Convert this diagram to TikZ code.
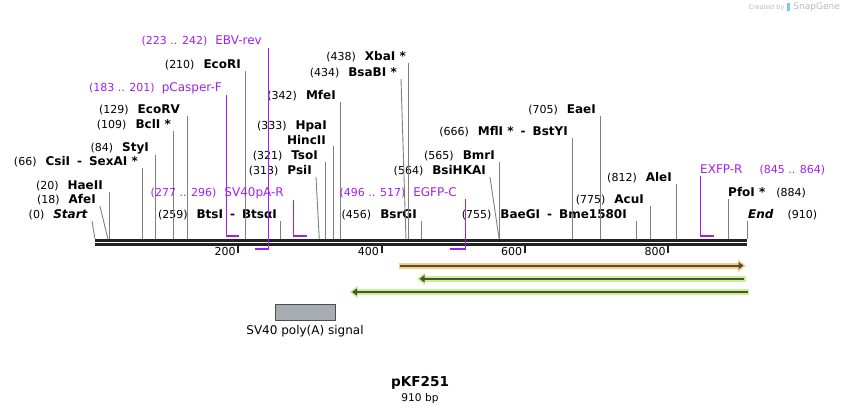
\documentclass[tikz,border=0pt]{standalone}
\usepackage{fontspec}
\setmainfont{DejaVu Sans}
\usetikzlibrary{arrows.meta, positioning}

\definecolor{primerpurple}{RGB}{160,32,240}
\definecolor{cutgray}{RGB}{128,128,128}
\definecolor{axisdark}{RGB}{34,34,34}
\definecolor{featorange}{RGB}{251,204,128}
\definecolor{featgreen}{RGB}{196,243,143}
\definecolor{featcore}{RGB}{78,78,66}
\definecolor{signalgray}{RGB}{167,172,179}
\definecolor{creditgray}{RGB}{185,185,185}
\definecolor{logoblue}{RGB}{120,200,240}

% position of a base pair on the map
\newcommand{\bpx}[1]{95+0.7165*#1}
\newcommand{\num}[1]{{\mdseries\fontsize{11}{13}\selectfont #1}}
\newcommand{\gap}{\hspace{9pt}}
\newcommand{\dash}{\hspace{7pt}-\hspace{7pt}}

\begin{document}
\begin{tikzpicture}[x=1pt, y=-1pt,
    enz/.style={inner xsep=0pt, inner ysep=1.5pt, anchor=base east, font=\fontsize{12}{14}\selectfont\bfseries},
    enzr/.style={enz, anchor=base west},
    prm/.style={inner xsep=0pt, inner ysep=1.5pt, anchor=base east, font=\fontsize{12}{14}\selectfont, text=primerpurple},
    prmr/.style={prm, anchor=base west},
    cut/.style={draw=cutgray, line width=0.9pt},
    primer/.style={draw=primerpurple, line width=1.2pt},
    foot/.style={draw=primerpurple, line width=2pt},
    band/.style={draw=#1, line width=6pt},
    core/.style={draw=featcore, line width=2.4pt}
]
\useasboundingbox (0,0) rectangle (844,415);

% ==== Sequence axis ====
\coordinate (seqstart) at (95,240.3);
\coordinate (seqend) at (747,240.3);
\draw[axisdark, line width=2.4pt] (seqstart) -- (seqend);
\draw[axisdark, line width=3pt] ([yshift=-3.9pt]seqstart) -- ([yshift=-3.9pt]seqend);

% ==== Ticks ====
\foreach \t in {200,400,600,800} {
  \coordinate (tick\t) at ({\bpx{\t}},245.5);
  \draw[axisdark, line width=2pt] (tick\t) -- ++(0,7.5);
  \node[anchor=east, inner sep=0pt, font=\fontsize{11}{13}\selectfont] (ticklbl\t) at ([xshift=-2.5pt, yshift=-6pt]tick\t) {\t};
}

% ==== Cut sites ====
\foreach \nm/\bp in {start/0, afei/18, haeii/20, csii/66, styi/84, bcli/109, ecorv/129,
    ecori/210, btsi/259, psii/313, tsoi/321, hpai/333, mfei/342, bsabi/434, xbai/438,
    bsrgi/456, bsihkai/564, bmri/565, mfli/666, eaei/705, baegi/755, acui/775,
    alei/812, pfoi/884, endsite/910}
  \coordinate (\nm) at ({\bpx{\bp}},239);

% ==== Enzyme labels ====
\node[enz] (start-txt) at (88,218) {\num{(0)}\gap\textit{Start}};
\node[enz] (afei-txt) at (96,203) {\num{(18)}\gap AfeI};
\node[enz] (haeii-txt) at (103,189) {\num{(20)}\gap HaeII};
\node[enz] (csii-txt) at (138,165) {\num{(66)}\gap CsiI\dash SexAI *};
\node[enz] (styi-txt) at (149,151) {\num{(84)}\gap StyI};
\node[enz] (bcli-txt) at (171,128) {\num{(109)}\gap BclI *};
\node[enz] (ecorv-txt) at (180,113) {\num{(129)}\gap EcoRV};
\node[enz] (ecori-txt) at (241,68) {\num{(210)}\gap EcoRI};
\node[enz] (btsi-txt) at (277,218) {\num{(259)}\gap BtsI\dash BtsαI};
\node[enz] (psii-txt) at (312,174) {\num{(313)}\gap PsiI};
\node[enz] (tsoi-txt) at (318,159) {\num{(321)}\gap TsoI};
\node[enz] (hpai-txt) at (327,129) {\num{(333)}\gap HpaI};
\node[enz] (hincii-txt) at (326,144) {HincII};
\node[enz] (mfei-txt) at (336,99) {\num{(342)}\gap MfeI};
\node[enz] (bsabi-txt) at (397,76) {\num{(434)}\gap BsaBI *};
\node[enz] (xbai-txt) at (406,60) {\num{(438)}\gap XbaI *};
\node[enz] (bsrgi-txt) at (417,218) {\num{(456)}\gap BsrGI};
\node[enz] (bsihkai-txt) at (486,174) {\num{(564)}\gap BsiHKAI};
\node[enz] (bmri-txt) at (495,159) {\num{(565)}\gap BmrI};
\node[enz] (mfli-txt) at (568,135) {\num{(666)}\gap MflI *\dash BstYI};
\node[enz] (eaei-txt) at (596,113) {\num{(705)}\gap EaeI};
\node[enz] (baegi-txt) at (627,218) {\num{(755)}\gap BaeGI\dash Bme1580I};
\node[enz] (acui-txt) at (644,203) {\num{(775)}\gap AcuI};
\node[enz] (alei-txt) at (672,181) {\num{(812)}\gap AleI};
\node[enzr] (pfoi-txt) at (728,196) {PfoI *\hspace{11pt}\num{(884)}};
\node[enzr] (endsite-txt) at (748,218) {\textit{End}\hspace{14pt}\num{(910)}};

% ==== Cut lines ====
\foreach \nm in {haeii, csii, styi, bcli, ecorv, ecori, btsi, tsoi, mfei, xbai,
    bsrgi, bmri, mfli, eaei, baegi, acui, alei, pfoi, endsite}
  \draw[cut] (\nm |- \nm-txt.south) -- (\nm);
\draw[cut] (hpai |- hincii-txt.south) -- (hpai);
\foreach \nm in {start, afei, psii, bsabi, bsihkai}
  \draw[cut] ([xshift=4pt]\nm-txt.south east) -- (\nm);

% ==== Primers ====
\node[prm] (pcasper-txt) at (222,91) {\num{(183 .. 201)}\hspace{7pt}pCasper-F};
\node[prm] (ebv-txt) at (262,45) {\num{(223 .. 242)}\hspace{8pt}EBV-rev};
\node[prm] (sv40r-txt) at (284,196) {\num{(277 .. 296)}\hspace{8pt}SV40pA-R};
\node[prm] (egfpc-txt) at (457,196) {\num{(496 .. 517)}\hspace{8pt}EGFP-C};
\node[prmr] (exfpr-txt) at (700,173) {EXFP-R\hspace{17pt}\num{(845 .. 864)}};

\coordinate (pcasper-a) at ({\bpx{183}},235.5);
\coordinate (pcasper-b) at ({\bpx{201}},235.5);
\coordinate (ebv-a) at ({\bpx{242}},248.5);
\coordinate (ebv-b) at ({\bpx{223}},248.5);
\coordinate (sv40r-a) at ({\bpx{277}},235.5);
\coordinate (sv40r-b) at ({\bpx{296}},235.5);
\coordinate (egfpc-a) at ({\bpx{517}},248.5);
\coordinate (egfpc-b) at ({\bpx{496}},248.5);
\coordinate (exfpr-a) at ({\bpx{845}},235.5);
\coordinate (exfpr-b) at ({\bpx{864}},235.5);

\foreach \nm in {pcasper, ebv, sv40r, egfpc, exfpr} {
  \draw[primer] (\nm-a |- \nm-txt.south) -- ([yshift=-1pt]\nm-a);
  \draw[foot] (\nm-a) -- (\nm-b);
}

% ==== Features ====
\coordinate (orange-l) at (398.5,265.7);
\coordinate (orange-r) at (746,265.7);
\coordinate (green1-l) at (417,278.8);
\coordinate (green1-r) at (745.7,278.8);
\coordinate (green2-l) at (349.5,292);
\coordinate (green2-r) at (749,292);

\draw[band=featorange, -{Triangle[length=8pt, width=12pt]}] (orange-l) -- (orange-r);
\draw[core, -{Triangle[length=5pt, width=7pt]}] ([xshift=1.5pt]orange-l) -- ([xshift=-2.5pt]orange-r);
\draw[band=featgreen, -{Triangle[length=8pt, width=12pt]}] (green1-r) -- (green1-l);
\draw[core, -{Triangle[length=5pt, width=7pt]}] ([xshift=-1.5pt]green1-r) -- ([xshift=2.5pt]green1-l);
\draw[band=featgreen, -{Triangle[length=8pt, width=12pt]}] (green2-r) -- (green2-l);
\draw[core, -{Triangle[length=5pt, width=7pt]}] ([xshift=-1.5pt]green2-r) -- ([xshift=2.5pt]green2-l);

% ==== SV40 poly(A) signal ====
\node[draw=featcore, fill=signalgray, line width=0.8pt, minimum width=60pt, minimum height=15.7pt, inner sep=0pt] (sv40sig) at (305,312.2) {};
\node[below=5pt of sv40sig, inner sep=0pt, font=\fontsize{12}{14}\selectfont] (sv40sig-txt) {SV40 poly(A) signal};

% ==== Title ====
\node[font=\fontsize{13.6}{16}\selectfont\bfseries, inner sep=0pt] (title) at (420,383) {pKF251};
\node[below=4pt of title, inner sep=0pt, font=\fontsize{10.6}{12}\selectfont] (length) {910 bp};

% ==== Credit ====
\node[anchor=east, inner sep=0pt, text=creditgray] (credit) at (840,7)
  {\fontsize{6.5}{8}\selectfont Created by\hspace{3pt}\textcolor{logoblue}{\rule[-1pt]{3pt}{8pt}}\hspace{3pt}\fontsize{9}{10}\selectfont SnapGene};

\end{tikzpicture}
\end{document}
